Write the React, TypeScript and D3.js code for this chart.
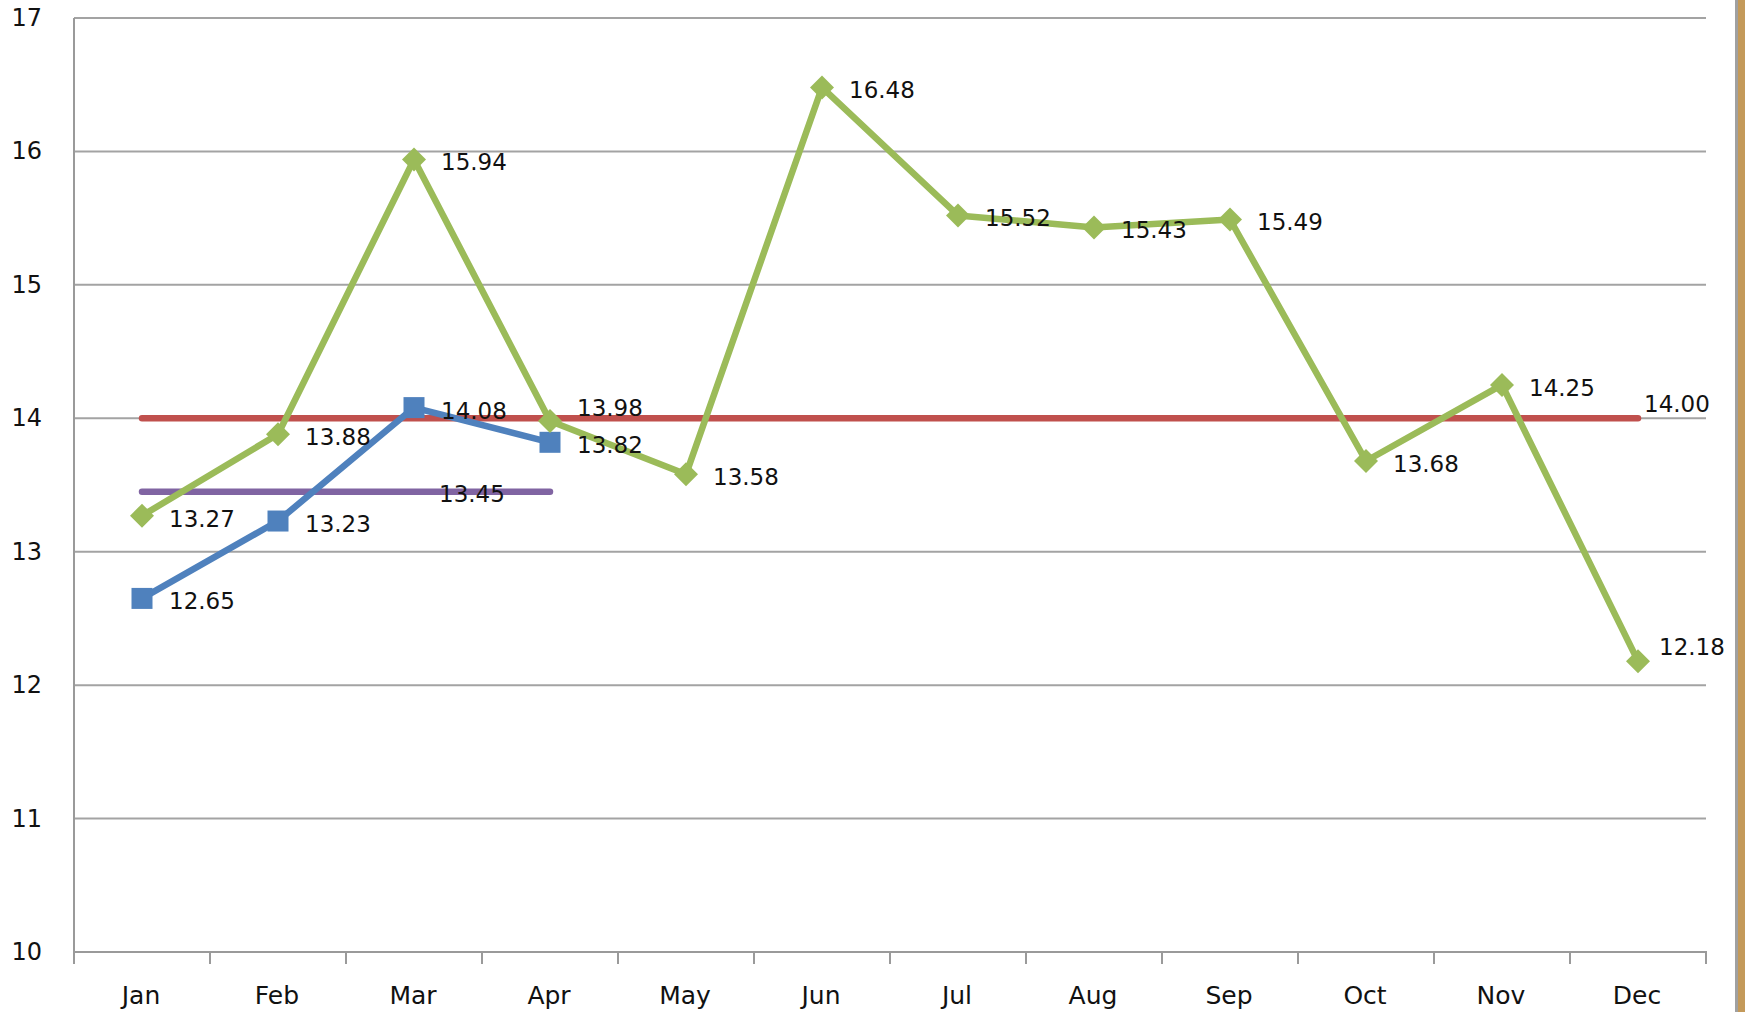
import React, { useRef, useEffect } from 'react';
import * as d3 from 'd3';

const months = ['Jan', 'Feb', 'Mar', 'Apr', 'May', 'Jun', 'Jul', 'Aug', 'Sep', 'Oct', 'Nov', 'Dec'];
const yTicks = [10, 11, 12, 13, 14, 15, 16, 17];

// main series (green diamonds)
const greenValues = [13.27, 13.88, 15.94, 13.98, 13.58, 16.48, 15.52, 15.43, 15.49, 13.68, 14.25, 12.18];
// short series (blue squares), Jan..Apr
const blueValues = [12.65, 13.23, 14.08, 13.82];
// flat reference lines
const redValue = 14.0;
const purpleValue = 13.45;
const purpleMonths = ['Jan', 'Feb', 'Mar', 'Apr'];

const W = 1745;
const H = 1012;
const FONT = '"DejaVu Sans", Verdana, sans-serif';

const App = () => {
  const ref = useRef<SVGSVGElement>(null);

  useEffect(() => {
    document.body.style.margin = '0';
    const svg = d3.select(ref.current).attr('width', W).attr('height', H);
    svg.selectAll('*').remove();

    svg.append('rect').attr('width', W).attr('height', H).attr('fill', '#fff');

    const x = d3.scaleBand().domain(months).range([74, 1706]);
    const cx = (m: string) => (x(m) as number) + x.bandwidth() / 2;
    const y = d3.scaleLinear().domain([10, 17]).range([952, 18]);

    // right edge frame
    svg.append('rect').attr('x', 1735).attr('y', 0).attr('width', 3).attr('height', H).attr('fill', '#a0a0a0');
    svg.append('rect').attr('x', 1738).attr('y', 0).attr('width', 7).attr('height', H).attr('fill', '#c49a5a');

    // gridlines
    svg.append('g')
      .selectAll('line')
      .data(yTicks.filter(t => t > 10))
      .enter().append('line')
      .attr('x1', 74).attr('x2', 1706)
      .attr('y1', d => y(d)).attr('y2', d => y(d))
      .attr('stroke', '#a3a3a3').attr('stroke-width', 2);

    // axes
    const axis = svg.append('g').attr('stroke', '#9a9a9a').attr('stroke-width', 2);
    axis.append('line').attr('x1', 74).attr('x2', 74).attr('y1', y(17)).attr('y2', y(10) + 1);
    axis.append('line').attr('x1', 73).attr('x2', 1707).attr('y1', y(10)).attr('y2', y(10));
    const tickXs = months.map(m => x(m) as number).concat([x.range()[1]]);
    axis.selectAll('.tick')
      .data(tickXs)
      .enter().append('line')
      .attr('x1', d => d).attr('x2', d => d)
      .attr('y1', y(10)).attr('y2', y(10) + 12);

    svg.append('g')
      .selectAll('text')
      .data(yTicks)
      .enter().append('text')
      .attr('x', 42).attr('y', d => y(d))
      .attr('text-anchor', 'end').attr('dominant-baseline', 'central')
      .style('font-family', FONT).style('font-size', '24px').attr('fill', '#111')
      .text(d => d);

    svg.append('g')
      .selectAll('text')
      .data(months)
      .enter().append('text')
      .attr('x', d => cx(d) - 1).attr('y', 995)
      .attr('text-anchor', 'middle').attr('dominant-baseline', 'central')
      .style('font-family', FONT).style('font-size', '25px').attr('fill', '#111')
      .text(d => d);

    const line = d3.line<[number, number]>().x(d => d[0]).y(d => d[1]);
    const drawLine = (pts: [number, number][], color: string) =>
      svg.append('path')
        .attr('d', line(pts) as string)
        .attr('fill', 'none').attr('stroke', color).attr('stroke-width', 6.5)
        .attr('stroke-linejoin', 'round').attr('stroke-linecap', 'round');

    // red reference line
    drawLine([[cx('Jan'), y(redValue)], [cx('Dec'), y(redValue)]], '#c0504d');
    // purple reference line
    drawLine([[cx(purpleMonths[0]), y(purpleValue)], [cx(purpleMonths[purpleMonths.length - 1]), y(purpleValue)]], '#8064a2');

    // blue series
    const bluePts = blueValues.map((v, i) => [cx(months[i]), y(v)] as [number, number]);
    drawLine(bluePts, '#4f81bd');
    svg.append('g')
      .selectAll('rect')
      .data(bluePts)
      .enter().append('rect')
      .attr('x', d => d[0] - 10.5).attr('y', d => d[1] - 10.5)
      .attr('width', 21).attr('height', 21)
      .attr('fill', '#4f81bd');

    // green series
    const greenPts = greenValues.map((v, i) => [cx(months[i]), y(v)] as [number, number]);
    drawLine(greenPts, '#9bbb59');
    svg.append('g')
      .selectAll('path')
      .data(greenPts)
      .enter().append('path')
      .attr('d', d => `M${d[0]},${d[1] - 12}L${d[0] + 12},${d[1]}L${d[0]},${d[1] + 12}L${d[0] - 12},${d[1]}Z`)
      .attr('fill', '#9bbb59');

    // data labels
    const labels: { x: number; y: number; t: string }[] = [];
    greenValues.forEach((v, i) => {
      let dy = 3;
      let dx = 27;
      if (months[i] === 'Apr') dy = -13;
      if (months[i] === 'Dec') { dy = -14; dx = 21; }
      labels.push({ x: cx(months[i]) + dx, y: y(v) + dy, t: v.toFixed(2) });
    });
    blueValues.forEach((v, i) => labels.push({ x: cx(months[i]) + 27, y: y(v) + 3, t: v.toFixed(2) }));
    labels.push({ x: cx('Mar') + 25, y: y(purpleValue) + 2, t: purpleValue.toFixed(2) });
    labels.push({ x: cx('Dec') + 6, y: y(redValue) - 14, t: redValue.toFixed(2) });

    svg.append('g')
      .selectAll('text')
      .data(labels)
      .enter().append('text')
      .attr('x', d => d.x).attr('y', d => d.y)
      .attr('dominant-baseline', 'central')
      .style('font-family', FONT).style('font-size', '23px').attr('fill', '#111')
      .text(d => d.t);
  }, []);

  return <svg ref={ref} style={{ display: 'block' }}></svg>;
};

export default App;
